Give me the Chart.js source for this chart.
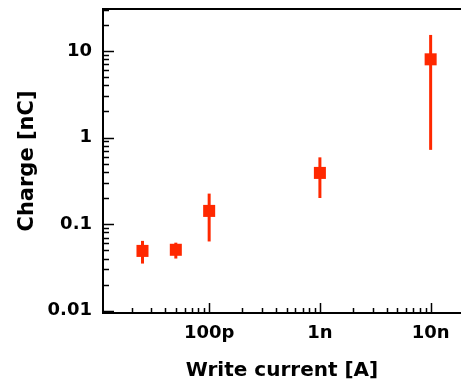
<!DOCTYPE html>
<html>
<head>
<meta charset="utf-8">
<script src="https://cdn.jsdelivr.net/npm/chart.js@4/dist/chart.umd.min.js"></script>
<style>
  html, body { margin: 0; padding: 0; background: #fff; }
  #wrap { width: 461px; height: 385px; position: relative; }
</style>
</head>
<body>
<div id="wrap"><canvas id="chargeChart"></canvas></div>
<script>
// Values
const writeCurrent = [2.5e-11, 5e-11, 1e-10, 1e-9, 1e-8];
const charge = [0.049, 0.0505, 0.142, 0.39, 8.0];
const chargeLow = [0.035, 0.040, 0.063, 0.20, 0.72];
const chargeHigh = [0.064, 0.061, 0.225, 0.59, 15.3];

// Axis ticks
const xTickValues = [1e-10, 1e-9, 1e-8];
const xTickLabels = ['100p', '1n', '10n'];
const yTickValues = [0.01, 0.1, 1, 10];
const yTickLabels = ['0.01', '0.1', '1', '10'];

const markerColor = '#ff2800';
const fontFamily = "'DejaVu Sans', sans-serif";

// Error bars drawn under the markers
const errorBarPlugin = {
    id: 'errorBars',
    beforeDatasetsDraw(chart) {
        const ctx = chart.ctx;
        const xs = chart.scales.x;
        const ys = chart.scales.y;
        ctx.save();
        ctx.strokeStyle = markerColor;
        ctx.lineWidth = 3;
        writeCurrent.forEach((c, i) => {
            const px = xs.getPixelForValue(c);
            ctx.beginPath();
            ctx.moveTo(px, ys.getPixelForValue(chargeLow[i]));
            ctx.lineTo(px, ys.getPixelForValue(chargeHigh[i]));
            ctx.stroke();
        });
        ctx.restore();
    }
};

// Inward log tick marks + top frame line
const frameTicksPlugin = {
    id: 'frameTicks',
    afterDraw(chart) {
        const ctx = chart.ctx;
        const area = chart.chartArea;
        const xs = chart.scales.x;
        const ys = chart.scales.y;
        ctx.save();
        ctx.strokeStyle = '#000';
        ctx.lineWidth = 1.5;

        for (let e = -12; e <= -7; e++) {
            for (let m = 1; m <= 9; m++) {
                const v = m * Math.pow(10, e);
                if (v < xs.min || v > xs.max) continue;
                const px = Math.round(xs.getPixelForValue(v)) + 0.5;
                const len = m === 1 ? 10 : 5;
                ctx.beginPath();
                ctx.moveTo(px, area.bottom);
                ctx.lineTo(px, area.bottom - len);
                ctx.stroke();
            }
        }

        for (let e = -3; e <= 1; e++) {
            for (let m = 1; m <= 9; m++) {
                const v = m * Math.pow(10, e);
                if (v < ys.min || v > ys.max) continue;
                const py = Math.round(ys.getPixelForValue(v)) + 0.5;
                const len = m === 1 ? 11 : 6;
                ctx.beginPath();
                ctx.moveTo(area.left, py);
                ctx.lineTo(area.left + len, py);
                ctx.stroke();
            }
        }

        ctx.lineWidth = 2;
        ctx.beginPath();
        ctx.moveTo(area.left - 1, area.top);
        ctx.lineTo(area.right, area.top);
        ctx.stroke();
        ctx.restore();
    }
};

function createChargeChart() {
    const ctx = document.getElementById('chargeChart');

    new Chart(ctx, {
        type: 'scatter',
        data: {
            datasets: [{
                label: 'Charge',
                data: writeCurrent.map((c, i) => ({ x: c, y: charge[i] })),
                backgroundColor: markerColor,
                borderColor: markerColor,
                borderWidth: 0,
                pointStyle: 'rect',
                pointRadius: 8.5
            }]
        },
        options: {
            responsive: true,
            maintainAspectRatio: false,
            animation: false,
            layout: { autoPadding: false, padding: { top: 9, right: 0, bottom: 0, left: 0 } },
            plugins: {
                legend: { display: false },
                tooltip: { enabled: false }
            },
            scales: {
                x: {
                    type: 'logarithmic',
                    position: 'bottom',
                    min: 1.1e-11,
                    max: 1.88e-8,
                    afterBuildTicks: (s) => { s.ticks = xTickValues.map(v => ({ value: v, major: true })); },
                    afterFit: (s) => { s.height = 72; s.paddingLeft = 0; s.paddingRight = 0; },
                    grid: { display: false, drawTicks: false },
                    border: { color: '#000', width: 2 },
                    ticks: {
                        callback: (v, i) => xTickLabels[i],
                        autoSkip: false,
                        maxRotation: 0,
                        padding: 10,
                        color: '#000',
                        font: { family: fontFamily, weight: 'bold', size: 18 }
                    },
                    title: {
                        display: true,
                        text: 'Write current [A]',
                        color: '#000',
                        padding: { top: 0, bottom: 2 },
                        font: { family: fontFamily, weight: 'bold', size: 20 }
                    }
                },
                y: {
                    type: 'logarithmic',
                    min: 0.0094,
                    max: 30.5,
                    afterBuildTicks: (s) => { s.ticks = yTickValues.map(v => ({ value: v, major: true })); },
                    afterFit: (s) => { s.width = 103; s.paddingTop = 0; s.paddingBottom = 0; },
                    grid: { display: false, drawTicks: false },
                    border: { color: '#000', width: 2 },
                    ticks: {
                        callback: (v, i) => yTickLabels[i],
                        autoSkip: false,
                        padding: 11,
                        color: '#000',
                        font: { family: fontFamily, weight: 'bold', size: 18 }
                    },
                    title: {
                        display: true,
                        text: 'Charge [nC]',
                        color: '#000',
                        padding: { top: 15, bottom: 0 },
                        font: { family: fontFamily, weight: 'bold', size: 21 }
                    }
                }
            }
        },
        plugins: [errorBarPlugin, frameTicksPlugin]
    });
}

createChargeChart();
</script>
</body>
</html>
